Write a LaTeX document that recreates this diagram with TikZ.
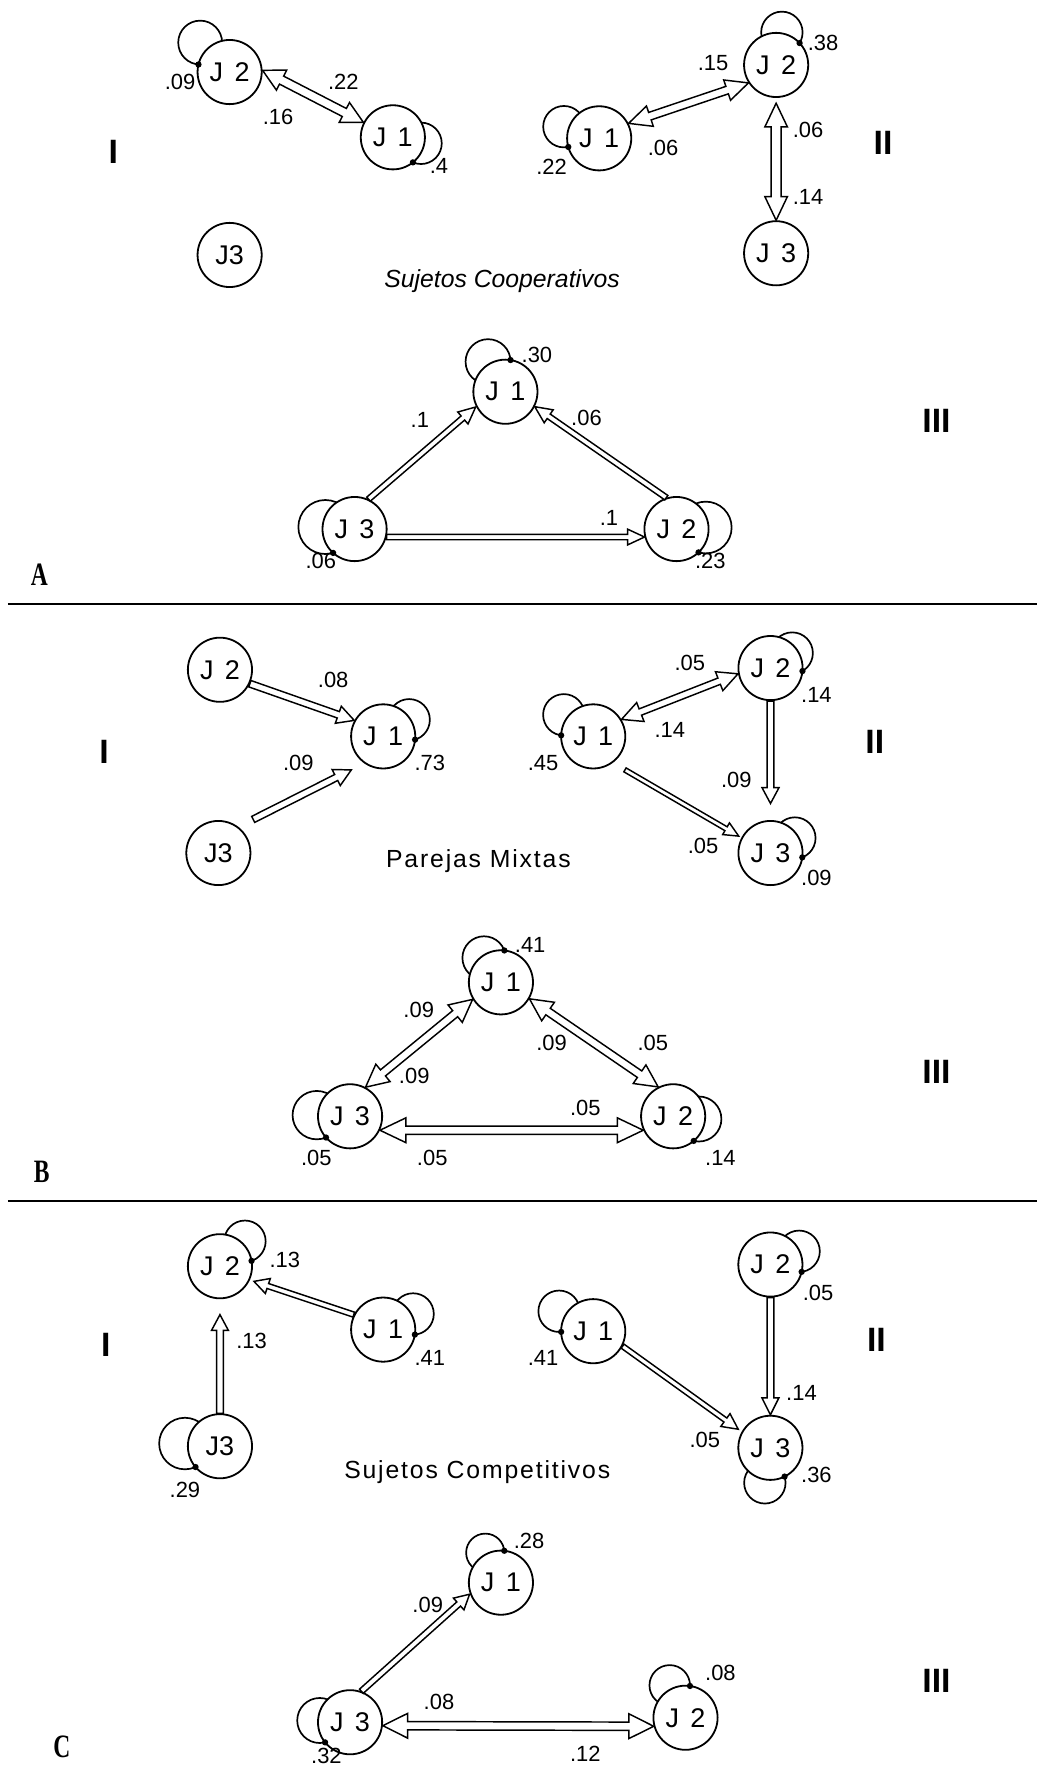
\documentclass[tikz,border=0pt]{standalone}
\usepackage{fontspec}
\usepackage{graphicx}
\setmainfont{Liberation Sans}
\newfontfamily\spacedfont[LetterSpace=7.5]{Liberation Sans}
\newfontfamily\letterfont{Liberation Serif}
\usetikzlibrary{calc}
\pgfdeclarelayer{bg}
\pgfsetlayers{bg,main}

\def\nodeR{28.5}

\tikzset{
  player/.style={circle, draw, line width=1.6pt, fill=white, minimum size=57pt,
    inner sep=0pt, font=\fontsize{24}{26}\selectfont},
  loopline/.style={line width=1.5pt},
  arrowline/.style={draw, line width=1.3pt, fill=white, line join=miter},
  val/.style={inner sep=0pt, font=\fontsize{19.5}{21}\selectfont},
  phase/.style={inner sep=0pt, font=\fontsize{30}{30}\selectfont\bfseries},
  group/.style={inner sep=0pt, font=\fontsize{29}{30}\selectfont\letterfont\bfseries},
  titleit/.style={inner sep=0pt, font=\fontsize{22}{24}\selectfont\itshape},
  titlesp/.style={inner sep=0pt, font=\fontsize{22}{24}\selectfont\spacedfont},
  rule/.style={line width=1.6pt},
}

% player label with the wide gap of the original lettering
\newcommand\jj[1]{J\hspace{0.42em}#1}

% self-loop behind a player: node, direction, centre distance, loop radius, side of the end mark
\newcommand\selfloop[5]{%
  \pgfmathsetmacro\lpA{(#3*#3+\nodeR*\nodeR-#4*#4)/(2*#3)}%
  \pgfmathsetmacro\lpAng{#2+(#5)*acos(\lpA/\nodeR)}%
  \begin{pgfonlayer}{bg}
    \draw[loopline] (#1) ++(#2:#3) circle[radius=#4];
  \end{pgfonlayer}
  \fill ($(#1)+(\lpAng:\nodeR)$) circle[radius=2.8];
}

% end points, direction and length of a hollow arrow
\newcommand\getends[2]{%
  \path #1; \pgfgetlastxy{\haX}{\haY}%
  \path #2; \pgfgetlastxy{\hbX}{\hbY}%
  \pgfmathsetmacro\haAng{atan2(\hbY-\haY,\hbX-\haX)}%
  \pgfmathsetmacro\haLen{veclen(\hbX-\haX,\hbY-\haY)}%
}
% single-headed hollow arrow: start, end, shaft half-width, head half-width, head length
\newcommand\sarrow[5]{%
  \getends{#1}{#2}%
  \begin{scope}[shift={(\haX,\haY)}, rotate=\haAng]
    \draw[arrowline] (0,#3) -- ({\haLen-#5},#3) -- ({\haLen-#5},#4) -- (\haLen,0)
      -- ({\haLen-#5},-#4) -- ({\haLen-#5},-#3) -- (0,-#3) -- cycle;
  \end{scope}
}
% double-headed hollow arrow
\newcommand\darrow[5]{%
  \getends{#1}{#2}%
  \begin{scope}[shift={(\haX,\haY)}, rotate=\haAng]
    \draw[arrowline] (#5,#3) -- ({\haLen-#5},#3) -- ({\haLen-#5},#4) -- (\haLen,0)
      -- ({\haLen-#5},-#4) -- ({\haLen-#5},-#3) -- (#5,-#3) -- (#5,-#4) -- (0,0)
      -- (#5,#4) -- cycle;
  \end{scope}
}

\begin{document}
\begin{tikzpicture}[x=1pt, y=1pt]
\begin{pgfonlayer}{bg}
  \fill[white] (0,0) rectangle (921,-1568);
\end{pgfonlayer}
\useasboundingbox (0,0) rectangle (921,-1568);

% ================= A : Sujetos Cooperativos =================
% phase I
\node[player] (a1J2) at (204,-64) {\jj2};
\node[player] (a1J1) at (349,-122) {\jj1};
\node[player] (a1J3) at (204,-226.5) {J3};
\selfloop{a1J2}{135}{37}{19.5}{1}
\selfloop{a1J1}{-12}{25.6}{18.4}{-1}
\darrow{(a1J2.3)}{(a1J1.153)}{4}{10}{19}
\node[val] (a1v1) at (160,-72.5) {.09};
\node[val] (a1v2) at (305,-72.5) {.22};
\node[val] (a1v3) at (247,-103.6) {.16};
\node[val] (a1v4) at (390,-147) {.4};
\node[phase] (a1ph) at (100.6,-134.7) {I};
\node[titleit] (atitle) at (446,-249.3) {Sujetos Cooperativos};

% phase II
\node[player] (a2J2) at (689.5,-57.7) {\jj2};
\node[player] (a2J1) at (532.3,-122.9) {\jj1};
\node[player] (a2J3) at (689.5,-225) {\jj3};
\selfloop{a2J2}{80}{29.4}{18.4}{-1}
\selfloop{a2J1}{161.7}{33}{18.4}{1}
\darrow{(a2J1.27)}{(a2J2.213)}{3.5}{9.5}{20}
\darrow{($(a2J2)+(-90:34)$)}{(a2J3.90)}{4.5}{10}{21}
\node[val] (a2v1) at (731.2,-38.5) {.38};
\node[val] (a2v2) at (490,-148) {.22};
\node[val] (a2v3) at (633.5,-56.2) {.15};
\node[val] (a2v4) at (589,-131.7) {.06};
\node[val] (a2v5) at (717.9,-115.5) {.06};
\node[val] (a2v6) at (717.9,-174.7) {.14};
\node[phase] (a2ph) at (784.5,-127.3) {II};

% phase III
\node[player] (a3J1) at (449,-348) {\jj1};
\node[player] (a3J3) at (315,-470) {\jj3};
\node[player] (a3J2) at (601,-470) {\jj2};
\selfloop{a3J1}{120}{30.8}{20}{-1}
\selfloop{a3J3}{176}{26}{24}{1}
\selfloop{a3J2}{3}{26}{23}{-1}
\sarrow{(a3J3.65)}{(a3J1.207)}{2.4}{7}{15}
\sarrow{(a3J2.108)}{(a3J1.-27)}{2.4}{7}{15}
\sarrow{(a3J3.-14)}{(a3J2.194)}{2.4}{7}{15}
\node[val] (a3v1) at (477,-315) {.30};
\node[val] (a3v2) at (373,-373) {.1};
\node[val] (a3v3) at (521,-371) {.06};
\node[val] (a3v4) at (541,-460) {.1};
\node[val] (a3v5) at (285,-498) {.06};
\node[val] (a3v6) at (631,-498) {.23};
\node[phase] (a3ph) at (832,-374) {III};
\node[group] (aletter) at (35,-511) {\scalebox{0.72}[1]{A}};
\draw[rule] (7,-536.5) -- (921,-536.5);

% ================= B : Parejas Mixtas =================
% phase I
\node[player] (b1J2) at (195.4,-595) {\jj2};
\node[player] (b1J1) at (340.4,-654.2) {\jj1};
\node[player] (b1J3) at (194,-757.8) {J3};
\selfloop{b1J1}{32.6}{27.4}{18.4}{-1}
\sarrow{(b1J2.-25)}{(b1J1.151)}{3}{8}{15}
\sarrow{($(b1J3)+(44:43)$)}{($(b1J1)+(226.5:41)$)}{3}{8}{15}
\node[val] (b1v1) at (296,-603.9) {.08};
\node[val] (b1v2) at (265,-678) {.09};
\node[val] (b1v3) at (381.9,-677.9) {.73};
\node[phase] (b1ph) at (92.4,-667.6) {I};
\node[titlesp] (btitle) at (425,-765.3) {Parejas Mixtas};

% phase II
\node[player] (b2J2) at (684.5,-593.5) {\jj2};
\node[player] (b2J1) at (527,-654.2) {\jj1};
\node[player] (b2J3) at (684.5,-757.8) {\jj3};
\selfloop{b2J2}{34.7}{23.4}{18.4}{-1}
\selfloop{b2J1}{143.7}{32.4}{18.4}{1}
\selfloop{b2J3}{31.6}{25.4}{18.4}{-1}
\darrow{(b2J1.31)}{(b2J2.190)}{3}{9}{18}
\sarrow{(b2J2.-90)}{($(b2J3)+(90:44)$)}{3}{7.5}{14}
\sarrow{($(b2J1)+(-46.5:41)$)}{($(b2J3)+(152:32)$)}{2}{6}{13}
\node[val] (b2v1) at (612.8,-589) {.05};
\node[val] (b2v2) at (725.3,-617.2) {.14};
\node[val] (b2v3) at (595,-648.3) {.14};
\node[val] (b2v4) at (482.5,-677.9) {.45};
\node[val] (b2v5) at (654.2,-692.7) {.09};
\node[val] (b2v6) at (624.6,-751.9) {.05};
\node[val] (b2v7) at (725.3,-780) {.09};
\node[phase] (b2ph) at (777.1,-658.7) {II};

% phase III
\node[player] (b3J1) at (445,-872.7) {\jj1};
\node[player] (b3J3) at (311,-991.7) {\jj3};
\node[player] (b3J2) at (598,-991.7) {\jj2};
\selfloop{b3J1}{124.6}{26.4}{19.2}{-1}
\selfloop{b3J3}{178}{29.6}{21.5}{1}
\selfloop{b3J2}{-6}{23}{20}{-1}
\darrow{(b3J3.62)}{(b3J1.211)}{3.5}{10}{20}
\darrow{(b3J1.-30)}{(b3J2.117)}{3.5}{10}{20}
\darrow{(b3J3.-25)}{(b3J2.205)}{3.7}{11}{23}
\node[val] (b3v1) at (471,-839.3) {.41};
\node[val] (b3v2) at (372,-897) {.09};
\node[val] (b3v3) at (368,-956.2) {.09};
\node[val] (b3v4) at (490,-926.6) {.09};
\node[val] (b3v5) at (580,-926.6) {.05};
\node[val] (b3v6) at (520,-984.3) {.05};
\node[val] (b3v7) at (281,-1028.7) {.05};
\node[val] (b3v8) at (384,-1028.7) {.05};
\node[val] (b3v9) at (640,-1028.7) {.14};
\node[phase] (b3ph) at (832,-952) {III};
\node[group] (bletter) at (37,-1041) {\scalebox{0.72}[1]{B}};
\draw[rule] (7,-1067.2) -- (921,-1067.2);

% ================= C : Sujetos Competitivos =================
% phase I
\node[player] (c1J2) at (195.4,-1124.9) {\jj2};
\node[player] (c1J1) at (340.4,-1181.2) {\jj1};
\node[player] (c1J3) at (195.4,-1284.8) {J3};
\selfloop{c1J2}{45}{31.4}{18.4}{-1}
\selfloop{c1J1}{27.6}{30}{18.4}{-1}
\selfloop{c1J3}{175.6}{31.2}{22.9}{1}
\sarrow{(c1J1.153)}{($(c1J2)+(-24:33)$)}{2.3}{7}{13}
\sarrow{(c1J3.90)}{($(c1J2)+(-90:43)$)}{3}{7.5}{14}
\node[val] (c1v1) at (253.1,-1119) {.13};
\node[val] (c1v2) at (381.9,-1206.3) {.41};
\node[val] (c1v3) at (223.5,-1191.5) {.13};
\node[val] (c1v4) at (164.3,-1323.3) {.29};
\node[phase] (c1ph) at (94.1,-1194.5) {I};
\node[titlesp] (ctitle) at (424,-1307.9) {Sujetos Competitivos};

% phase II
\node[player] (c2J2) at (684.4,-1123.4) {\jj2};
\node[player] (c2J1) at (527,-1182.6) {\jj1};
\node[player] (c2J3) at (684.4,-1286.2) {\jj3};
\selfloop{c2J2}{24.8}{28.1}{18.4}{-1}
\selfloop{c2J1}{149.7}{35.1}{18.4}{1}
\selfloop{c2J3}{261}{31.5}{18.4}{1}
\sarrow{(c2J1.-27)}{($(c2J3)+(150:33)$)}{2.2}{7}{14}
\sarrow{(c2J2.-90)}{(c2J3.90)}{3}{7.5}{15}
\node[val] (c2v1) at (726.7,-1148.6) {.05};
\node[val] (c2v2) at (482.5,-1206.3) {.41};
\node[val] (c2v3) at (626.1,-1278.9) {.05};
\node[val] (c2v4) at (712,-1237.4) {.14};
\node[val] (c2v5) at (725.3,-1310) {.36};
\node[phase] (c2ph) at (778.6,-1190) {II};

% phase III
\node[player] (c3J1) at (445,-1406) {\jj1};
\node[player] (c3J3) at (311,-1530) {\jj3};
\node[player] (c3J2) at (609,-1526) {\jj2};
\selfloop{c3J1}{117.6}{30}{17}{-1}
\selfloop{c3J3}{176.7}{27}{20}{1}
\selfloop{c3J2}{116}{32}{18}{-1}
\sarrow{(c3J3.70)}{(c3J1.200)}{2.5}{7}{13}
\darrow{(c3J3.-6)}{(c3J2.195)}{3.7}{11}{22}
\node[val] (c3v1) at (470,-1369) {.28};
\node[val] (c3v2) at (380,-1426) {.09};
\node[val] (c3v3) at (640,-1486) {.08};
\node[val] (c3v4) at (390,-1512) {.08};
\node[val] (c3v5) at (290,-1560) {.32};
\node[val] (c3v6) at (520,-1558) {.12};
\node[phase] (c3ph) at (832,-1493) {III};
\node[group] (cletter) at (55,-1552) {\scalebox{0.72}[1]{C}};
\end{tikzpicture}
\end{document}
